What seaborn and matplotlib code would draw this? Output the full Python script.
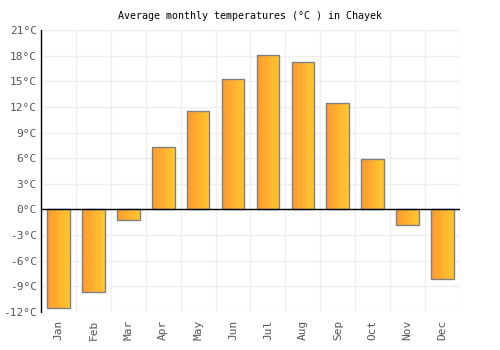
import numpy as np
import matplotlib
matplotlib.use("Agg")
import matplotlib.pyplot as plt
import seaborn as sns
from matplotlib.colors import LinearSegmentedColormap

months = ['Jan', 'Feb', 'Mar', 'Apr', 'May', 'Jun', 'Jul', 'Aug', 'Sep', 'Oct', 'Nov', 'Dec']
temps = [-11.6, -9.7, -1.3, 7.3, 11.5, 15.3, 18.1, 17.3, 12.5, 5.9, -1.8, -8.2]
yticks = list(range(-12, 22, 3))

sns.set_style('white')
plt.rcParams['font.family'] = ['DejaVu Sans Mono']

fig = plt.figure(figsize=(5, 3.5), dpi=100)
ax = fig.add_axes([0.082, 0.109, 0.838, 0.805])

sns.barplot(x=months, y=temps, ax=ax, width=0.65, color='#ffb030',
            edgecolor='#808080', linewidth=1.0, zorder=3)

# horizontal orange -> yellow gradient inside each bar
cmap = LinearSegmentedColormap.from_list('og', ['#ff9a2e', '#ffc830'])
grad = np.linspace(0, 1, 64).reshape(1, -1)
for p in ax.patches:
    x0, y0 = p.get_x(), p.get_y()
    w, h = p.get_width(), p.get_height()
    im = ax.imshow(grad, cmap=cmap, aspect='auto', zorder=3.5,
                   extent=[x0, x0 + w, min(y0, y0 + h), max(y0, y0 + h)])
    im.set_clip_path(p)
    p.set_facecolor('none')
    p.set_zorder(4)

ax.set_xlim(-0.5, 11.5)
ax.set_ylim(-12, 21)
ax.set_yticks(yticks)
ax.set_yticklabels([f'{t}°C' for t in yticks])

for xv in np.arange(-0.5, 12, 1):
    ax.axvline(xv, color='#eeeeee', lw=1, zorder=1)
for yv in yticks:
    ax.axhline(yv, color='#eeeeee', lw=1, zorder=1)
ax.axhline(0, color='black', lw=1, zorder=5)

for s in ['top', 'right', 'bottom']:
    ax.spines[s].set_visible(False)
ax.spines['left'].set_color('black')
ax.spines['left'].set_linewidth(1)
ax.spines['left'].set_zorder(6)

ax.tick_params(axis='x', rotation=90, labelsize=8, colors='#555555', length=0, pad=6)
ax.tick_params(axis='y', labelsize=8, colors='#555555', length=0, pad=3)
ax.set_title('Average monthly temperatures (°C ) in Chayek', fontsize=7.2, color='black', pad=8)

fig.savefig('out.png', dpi=100)
